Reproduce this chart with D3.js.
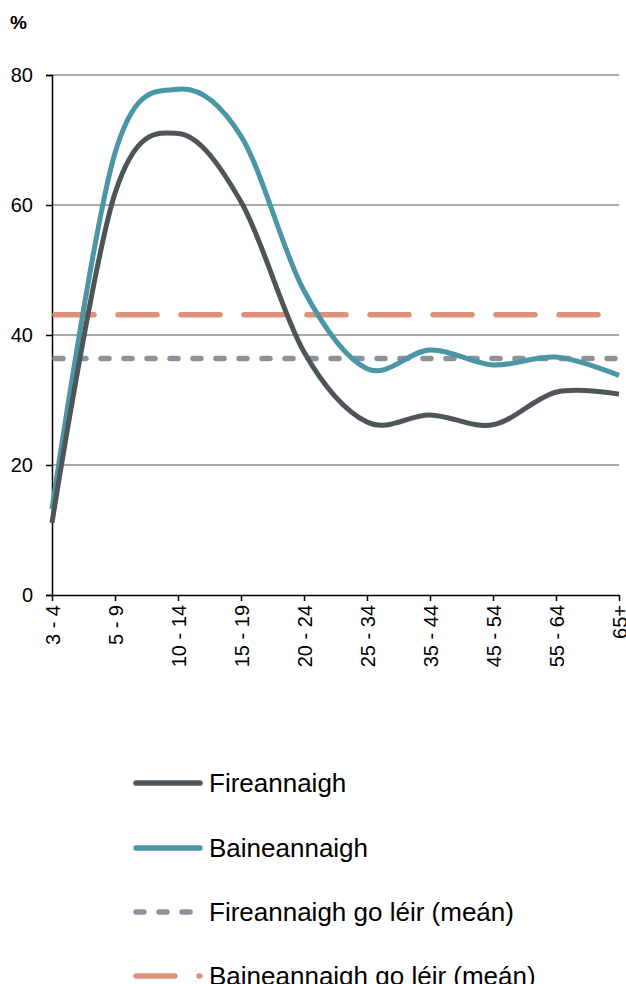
<!DOCTYPE html>
<html><head><meta charset="utf-8">
<script src="https://cdn.jsdelivr.net/npm/d3@7"></script>
<style>body{margin:0;background:#fff}svg{display:block}text{font-family:"Liberation Sans",Arial,sans-serif}</style>
</head><body>
<script>
const categories = ["3 - 4","5 - 9","10 - 14","15 - 19","20 - 24","25 - 34","35 - 44","45 - 54","55 - 64","65+"];
const maleValues = [11.1, 61.8, 71.0, 60.5, 37.4, 26.6, 27.7, 26.2, 31.2, 30.9];
const femaleValues = [13.2, 68.0, 77.8, 70.6, 46.8, 34.8, 37.7, 35.4, 36.6, 33.8];
const maleMean = 36.4;
const femaleMean = 43.1;
const yTicks = [0, 20, 40, 60, 80];
const seriesNames = ["Fireannaigh","Baineannaigh","Fireannaigh go léir (meán)","Baineannaigh go léir (meán)"];
const colors = {male:"#4d5559", female:"#4a96a6", maleMean:"#8b929c", femaleMean:"#dc927a"};

const W = 626, H = 984;
const svg = d3.select("body").append("svg").attr("width", W).attr("height", H);

const x = d3.scalePoint().domain(categories).range([52, 619]);
const y = d3.scaleLinear().domain([0, 80]).range([595, 75]);

// gridlines
svg.append("g").selectAll("line").data(yTicks.filter(d => d > 0)).join("line")
  .attr("x1", 52).attr("x2", 619).attr("y1", d => y(d)).attr("y2", d => y(d))
  .attr("stroke", "#8c8c8c").attr("stroke-width", 1.3);

// y axis
const yAxis = svg.append("g").attr("transform", "translate(52,0)")
  .call(d3.axisLeft(y).tickValues(yTicks).tickSize(6).tickPadding(13));
yAxis.attr("font-size", null).attr("font-family", null);
yAxis.select(".domain").attr("stroke", "#000").attr("stroke-width", 1.5);
yAxis.selectAll(".tick line").attr("stroke", "#000").attr("stroke-width", 1.5);
yAxis.selectAll(".tick text").style("font-size", "20px").attr("fill", "#000");

// x axis
const xAxis = svg.append("g").attr("transform", "translate(0,595)")
  .call(d3.axisBottom(x).tickSize(6).tickSizeOuter(0));
xAxis.attr("font-size", null).attr("font-family", null);
xAxis.select(".domain").attr("stroke", "#000").attr("stroke-width", 1.5);
xAxis.selectAll(".tick line").attr("stroke", "#000").attr("stroke-width", 1.5);
xAxis.selectAll(".tick text").style("font-size", "20px").attr("fill", "#000")
  .attr("transform", "rotate(-90)").attr("text-anchor", "end")
  .attr("x", -10).attr("y", 0).attr("dy", "0.35em");

// % label
svg.append("text").attr("x", 10).attr("y", 29).style("font-size", "19px").attr("font-weight", "bold").text("%");

// mean lines
svg.append("line").attr("x1", 55).attr("x2", 619).attr("y1", y(femaleMean)).attr("y2", y(femaleMean))
  .attr("stroke", colors.femaleMean).attr("stroke-width", 5.5).attr("stroke-linecap", "round")
  .attr("stroke-dasharray", "39,24");
svg.append("line").attr("x1", 55).attr("x2", 619).attr("y1", y(maleMean)).attr("y2", y(maleMean))
  .attr("stroke", colors.maleMean).attr("stroke-width", 5.5).attr("stroke-linecap", "round")
  .attr("stroke-dasharray", "8,15");

// data lines
const line = d3.line().x((d, i) => x(categories[i])).y(d => y(d)).curve(d3.curveCardinal.tension(0));
svg.append("path").datum(femaleValues).attr("d", line).attr("fill", "none")
  .attr("stroke", colors.female).attr("stroke-width", 5);
svg.append("path").datum(maleValues).attr("d", line).attr("fill", "none")
  .attr("stroke", colors.male).attr("stroke-width", 5);

// legend
const legend = [
  {name: seriesNames[0], color: colors.male, dash: null, y: 783},
  {name: seriesNames[1], color: colors.female, dash: null, y: 848},
  {name: seriesNames[2], color: colors.maleMean, dash: "8,15", y: 912},
  {name: seriesNames[3], color: colors.femaleMean, dash: "39,24", y: 976}
];
const lg = svg.append("g").selectAll("g").data(legend).join("g");
lg.append("line").attr("x1", 136).attr("x2", 200).attr("y1", d => d.y).attr("y2", d => d.y)
  .attr("stroke", d => d.color).attr("stroke-width", 5.5).attr("stroke-linecap", "round")
  .attr("stroke-dasharray", d => d.dash);
lg.append("text").attr("x", 209).attr("y", d => d.y + 9).style("font-size", "26px").attr("fill", "#000")
  .text(d => d.name);
</script>
</body></html>
